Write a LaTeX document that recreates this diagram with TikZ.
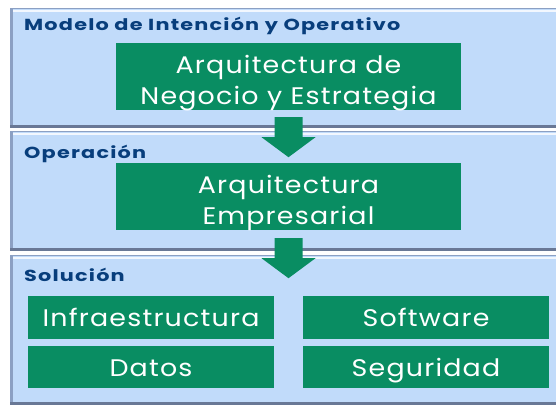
\documentclass[tikz,border=0pt]{standalone}
\usepackage{fontspec}
\setmainfont{Poppins}
\newfontfamily\titlefont[FakeStretch=1.3,LetterSpace=7.5]{Poppins}
\newfontfamily\boxfont[FakeStretch=1.12,LetterSpace=5]{Poppins}
\usetikzlibrary{calc}
\definecolor{panelblue}{RGB}{193,219,250}
\definecolor{boxgreen}{RGB}{9,141,98}
\definecolor{titleblue}{RGB}{8,62,124}
\definecolor{bevelgray}{RGB}{105,120,150}
\definecolor{bevelside}{RGB}{140,160,195}
\tikzset{
  greenbox/.style={fill=boxgreen,text=white,inner sep=0pt,align=center,
    minimum width=345pt,minimum height=67pt,text height=55pt,text depth=0pt,
    font=\boxfont\fontsize{24}{31}\selectfont},
  smallbox/.style={greenbox,minimum width=246pt,minimum height=43pt,
    text height=19pt,text depth=0pt},
  paneltitle/.style={anchor=base west,inner sep=0pt,text=titleblue,
    font=\titlefont\bfseries\fontsize{16}{18}\selectfont}
}
% panel with bevelled edges: #1 top, #2 bottom
\newcommand{\panelbg}[2]{%
  \fill[panelblue] (10,#1) rectangle (556,#2);
  \draw[bevelside,line width=0.8pt] (10,#1+0.4) -- (556,#1+0.4);
  \draw[white,opacity=0.8,line width=2pt] (13,#1+2.5) -- (556,#1+2.5);
  \draw[bevelside,line width=3pt] (11.5,#1) -- (11.5,#2);
  \draw[bevelgray,line width=3pt] (10,#2-1.5) -- (556,#2-1.5);
}
% block arrow below a node: #1 node, #2 gap
\newcommand{\flecha}[2]{%
  \fill[boxgreen] ($(#1.south)+(-14,#2)$) -- ++(28,0) -- ++(0,20) -- ++(13,0)
    -- ++(-27,20) -- ++(-27,-20) -- ++(13,0) -- cycle;
}
\begin{document}
\begin{tikzpicture}[x=1pt,y=-1pt]
\useasboundingbox (0,0) rectangle (556,407);
\panelbg{8}{128}
\panelbg{131}{251}
\panelbg{255}{405}

\node[paneltitle] (tmodelo) at (24,30) {Modelo de Intención y Operativo};
\node[paneltitle] (toper) at (24,158) {Operación};
\node[paneltitle] (tsol) at (24,281) {Solución};

\node[greenbox] (negocio) at (288.5,76.5) {Arquitectura de\\Negocio y Estrategia};
\node[greenbox] (empresa) at (288.5,196.5) {Arquitectura\\Empresarial};

\node[smallbox] (infra) at (151,317) {Infraestructura};
\node[smallbox] (soft) at (426,317) {Software};
\node[smallbox,minimum height=42pt] (datos) at (151,367) {Datos};
\node[smallbox,minimum height=42pt] (segur) at (426,367) {Seguridad};

\flecha{negocio}{7}
\flecha{empresa}{8}
\end{tikzpicture}
\end{document}
